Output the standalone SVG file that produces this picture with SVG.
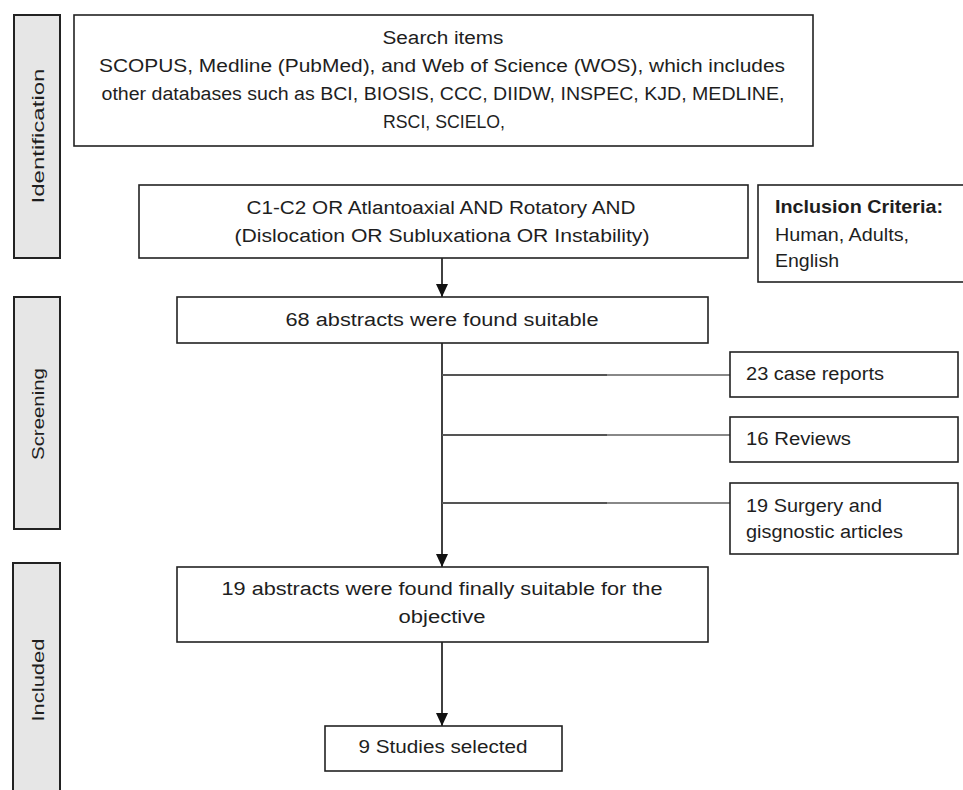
<svg xmlns="http://www.w3.org/2000/svg" width="963" height="790" viewBox="0 0 963 790">
<defs>
<style>
.box{fill:#fff;stroke:#222;stroke-width:1.6}
.side{fill:#e6e6e6;stroke:#222;stroke-width:2}
text{font-family:"Liberation Sans",Arial,sans-serif;font-size:18px;fill:#1e1e1e}
.c{text-anchor:middle}
.b{font-weight:bold}
.sl{font-size:17px;text-anchor:middle}
.ln{stroke:#111;stroke-width:1.6;fill:none}
.br1{stroke:#555;stroke-width:2;fill:none}
.br2{stroke:#888;stroke-width:2;fill:none}
</style>
<marker id="ah" markerWidth="13" markerHeight="12" refX="13" refY="6" orient="auto" markerUnits="userSpaceOnUse" viewBox="0 0 13 12">
<path d="M0,0 L13,6 L0,12 Z" fill="#111"/>
</marker>
</defs>
<rect width="963" height="790" fill="#fff"/>

<g id="stage-identification">
<rect class="side" x="14" y="15" width="46" height="243"/>
<text class="sl" transform="translate(44,136) rotate(-90)" textLength="135" lengthAdjust="spacingAndGlyphs">Identification</text>
</g>
<g id="stage-screening">
<rect class="side" x="14" y="297" width="46" height="232"/>
<text class="sl" transform="translate(44,414) rotate(-90)" textLength="92" lengthAdjust="spacingAndGlyphs">Screening</text>
</g>
<g id="stage-included">
<rect class="side" x="13" y="563" width="47" height="240"/>
<text class="sl" transform="translate(44,680) rotate(-90)" textLength="83" lengthAdjust="spacingAndGlyphs">Included</text>
</g>

<g id="connectors">
<line class="ln" x1="442" y1="258" x2="442" y2="297" marker-end="url(#ah)"/>
<line class="ln" x1="442" y1="343" x2="442" y2="567" marker-end="url(#ah)"/>
<line class="ln" x1="442" y1="642" x2="442" y2="726" marker-end="url(#ah)"/>
<line class="br1" x1="442" y1="375" x2="607" y2="375"/>
<line class="br2" x1="607" y1="375" x2="730" y2="375"/>
<line class="br1" x1="442" y1="435" x2="607" y2="435"/>
<line class="br2" x1="607" y1="435" x2="730" y2="435"/>
<line class="br1" x1="442" y1="503" x2="607" y2="503"/>
<line class="br2" x1="607" y1="503" x2="730" y2="503"/>
</g>

<g id="search">
<rect class="box" x="74" y="15" width="739" height="131"/>
<text class="c" x="443" y="44" textLength="121" lengthAdjust="spacingAndGlyphs">Search items</text>
<text class="c" x="442" y="72" textLength="686" lengthAdjust="spacingAndGlyphs">SCOPUS, Medline (PubMed), and Web of Science (WOS), which includes</text>
<text class="c" x="443" y="100" textLength="683" lengthAdjust="spacingAndGlyphs">other databases such as BCI, BIOSIS, CCC, DIIDW, INSPEC, KJD, MEDLINE,</text>
<text class="c" x="444" y="128" textLength="122" lengthAdjust="spacingAndGlyphs">RSCI, SCIELO,</text>
</g>

<g id="query">
<rect class="box" x="139" y="185" width="609" height="73"/>
<text class="c" x="441" y="214" textLength="389" lengthAdjust="spacingAndGlyphs">C1-C2 OR Atlantoaxial AND Rotatory AND</text>
<text class="c" x="442" y="242" textLength="415" lengthAdjust="spacingAndGlyphs">(Dislocation OR Subluxationa OR Instability)</text>
</g>

<g id="inclusion">
<rect class="box" x="758" y="185" width="215" height="97"/>
<text class="b" x="775" y="213" textLength="168" lengthAdjust="spacingAndGlyphs">Inclusion  Criteria:</text>
<text x="775" y="241" textLength="134" lengthAdjust="spacingAndGlyphs">Human, Adults,</text>
<text x="775" y="267" textLength="64" lengthAdjust="spacingAndGlyphs">English</text>
</g>

<g id="abstracts68">
<rect class="box" x="177" y="297" width="531" height="46"/>
<text class="c" x="442" y="326" textLength="313" lengthAdjust="spacingAndGlyphs">68 abstracts were found suitable</text>
</g>

<g id="case-reports">
<rect class="box" x="730" y="352" width="228" height="45"/>
<text x="746" y="380" textLength="138" lengthAdjust="spacingAndGlyphs">23 case reports</text>
</g>

<g id="reviews">
<rect class="box" x="730" y="417" width="228" height="45"/>
<text x="746" y="445" textLength="105" lengthAdjust="spacingAndGlyphs">16 Reviews</text>
</g>

<g id="surgery">
<rect class="box" x="730" y="483" width="228" height="71"/>
<text x="746" y="512" textLength="136" lengthAdjust="spacingAndGlyphs">19 Surgery and</text>
<text x="746" y="538" textLength="157" lengthAdjust="spacingAndGlyphs">gisgnostic articles</text>
</g>

<g id="abstracts19">
<rect class="box" x="177" y="567" width="531" height="75"/>
<text class="c" x="442" y="595" textLength="441" lengthAdjust="spacingAndGlyphs">19 abstracts were found finally suitable for the</text>
<text class="c" x="442" y="623" textLength="87" lengthAdjust="spacingAndGlyphs">objective</text>
</g>

<g id="selected">
<rect class="box" x="325" y="726" width="237" height="45"/>
<text class="c" x="443" y="753" textLength="169" lengthAdjust="spacingAndGlyphs">9 Studies selected</text>
</g>
</svg>
